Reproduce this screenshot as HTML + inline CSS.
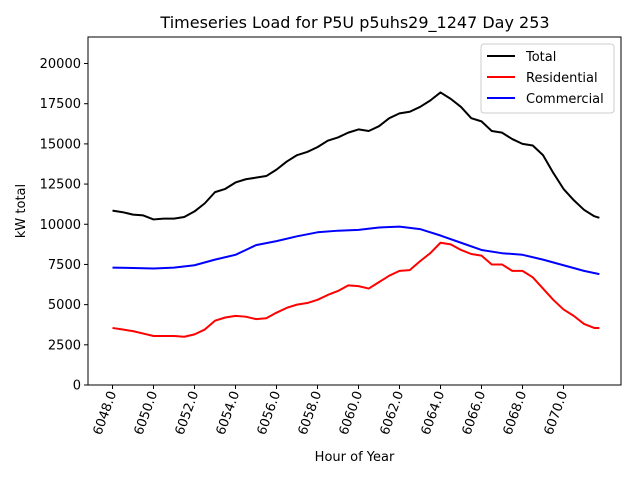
<!DOCTYPE html>
<html><head><meta charset="utf-8"><style>
body{margin:0;background:#fff;}
svg text{font-family:"DejaVu Sans","Liberation Sans",sans-serif;fill:#000;}
</style></head><body>
<svg id="chart" width="640" height="480" xmlns="http://www.w3.org/2000/svg"></svg>
<script>
const totalHours=[6048,6048.5,6049,6049.5,6050,6050.5,6051,6051.5,6052,6052.5,6053,6053.5,6054,6054.5,6055,6055.5,6056,6056.5,6057,6057.5,6058,6058.5,6059,6059.5,6060,6060.5,6061,6061.5,6062,6062.5,6063,6063.5,6064,6064.5,6065,6065.5,6066,6066.5,6067,6067.5,6068,6068.5,6069,6069.5,6070,6070.5,6071,6071.5,6071.75];
const totalValues=[10850,10750,10600,10550,10300,10350,10350,10450,10800,11300,12000,12200,12600,12800,12900,13000,13400,13900,14300,14500,14800,15200,15400,15700,15900,15800,16100,16600,16900,17000,17300,17700,18200,17800,17300,16600,16400,15800,15700,15300,15000,14900,14300,13200,12200,11500,10900,10500,10400];
const residentialValues=[3550,3450,3350,3200,3050,3050,3050,3000,3150,3450,4000,4200,4300,4250,4100,4150,4500,4800,5000,5100,5300,5600,5850,6200,6150,6000,6400,6800,7100,7150,7700,8200,8850,8750,8400,8150,8050,7500,7500,7100,7100,6700,6000,5300,4700,4300,3800,3550,3550];
const commercialHours=[6048,6049,6050,6051,6052,6053,6054,6054.5,6055,6056,6057,6058,6059,6060,6061,6062,6063,6064,6065,6066,6067,6068,6069,6070,6071,6071.75];
const commercialValues=[7300,7280,7250,7300,7450,7800,8100,8400,8700,8950,9250,9500,9600,9650,9800,9850,9700,9300,8850,8400,8200,8100,7800,7450,7100,6900];
const xTicks=[6048,6050,6052,6054,6056,6058,6060,6062,6064,6066,6068,6070];
const yTicks=[0,2500,5000,7500,10000,12500,15000,17500,20000];

const L=88,R=621,T=37,B=385;
const X=h=>112.5+(h-6048)*20.5;
const Y=v=>B-v*(B-T)/21650;
const svg=document.getElementById('chart');
const NS='http://www.w3.org/2000/svg';
function mk(tag,attrs,parent){const e=document.createElementNS(NS,tag);for(const k in attrs)e.setAttribute(k,attrs[k]);(parent||svg).appendChild(e);return e;}

let t=mk('text',{x:355,y:28,'text-anchor':'middle','font-size':16});
t.textContent='Timeseries Load for P5U p5uhs29_1247  Day 253';



yTicks.forEach(v=>{
  const l=mk('line',{x1:L-4,x2:L,y1:Y(v),y2:Y(v),stroke:'#000'});
  
  
  const tx=mk('text',{x:L-7,y:Y(v)+4.5,'text-anchor':'end','font-size':13});
  tx.textContent=v;
  
  
});
xTicks.forEach(h=>{
  const l=mk('line',{x1:X(h),x2:X(h),y1:B,y2:B+4,stroke:'#000'});
  
  
  const tx=mk('text',{'text-anchor':'end','font-size':13,transform:`translate(${X(h)+4},${B+8}) rotate(-70)`});
  tx.textContent=h.toFixed(1);
  
  
});

function series(hours,vals,color,name){
  const p=mk('polyline',{points:hours.map((h,i)=>X(h)+','+Y(vals[i])).join(' '),fill:'none',stroke:color,'stroke-width':2,'stroke-linejoin':'round'});
  
  
}
series(totalHours,totalValues,'#000','total-line');
series(totalHours,residentialValues,'#f00','residential-line');
series(commercialHours,commercialValues,'#00f','commercial-line');

const fr=mk('rect',{x:L,y:T,width:R-L,height:B-T,fill:'none',stroke:'#000','stroke-width':1});



let xl=mk('text',{x:(L+R)/2,y:461,'text-anchor':'middle','font-size':13});
xl.textContent='Hour of Year';


let yl=mk('text',{'text-anchor':'middle','font-size':13,transform:`translate(25,${(T+B)/2}) rotate(-90)`});
yl.textContent='kW total';



const lg=mk('g',{});


mk('rect',{x:481,y:44,width:133,height:69,rx:3,fill:'#fff','fill-opacity':0.8,stroke:'#ccc'},lg);
[['Total','#000'],['Residential','#f00'],['Commercial','#00f']].forEach((e,i)=>{
  const y=56+i*21;
  const ln=mk('line',{x1:487,x2:515,y1:y,y2:y,stroke:e[1],'stroke-width':2},lg);
  
  
  const tx=mk('text',{x:526,y:y+5,'font-size':13},lg);
  tx.textContent=e[0];
  
  
});
</script>
</body></html>
